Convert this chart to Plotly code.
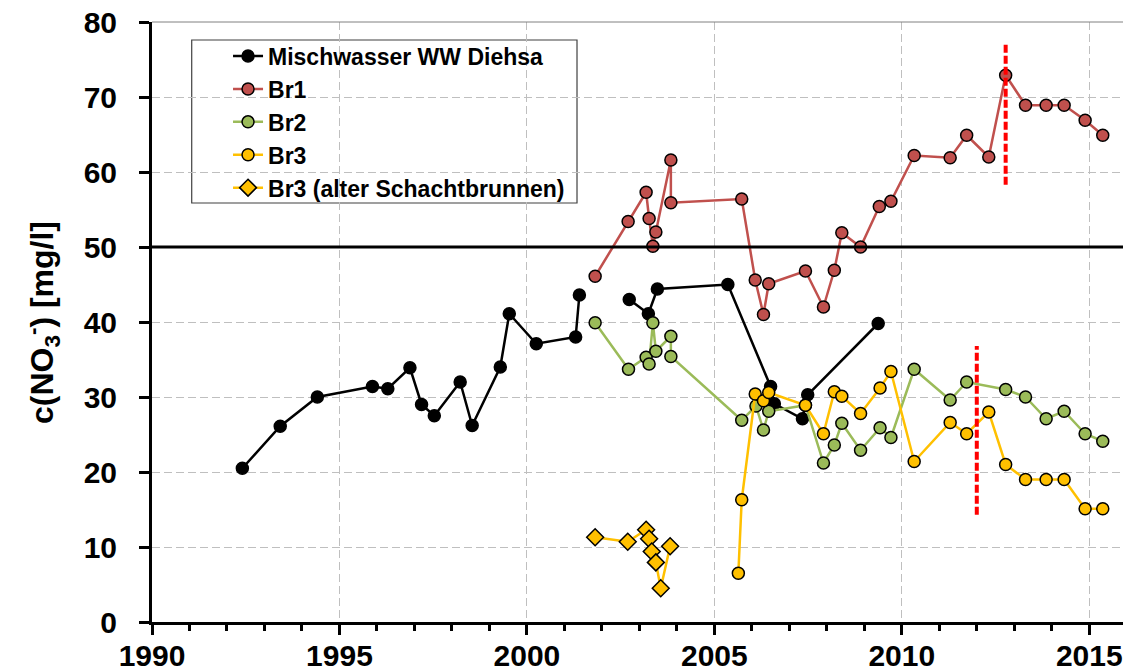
import plotly.graph_objects as go

# ---------------- data ----------------
mw_year = [1992.41, 1993.42, 1994.41, 1995.88, 1996.29, 1996.88, 1997.19, 1997.53, 1998.22, 1998.54,
           1999.29, 1999.53, 2000.25, 2001.30, 2001.40, None,
           2002.73, 2003.24, 2003.48, 2005.36, 2006.50, 2006.60, 2007.35, 2007.49, 2009.37]
mw_val = [20.5, 26.1, 30.0, 31.4, 31.1, 33.9, 29.0, 27.5, 32.0, 26.2,
          34.0, 41.1, 37.1, 38.0, 43.6, None,
          43.0, 41.1, 44.4, 45.0, 31.4, 29.1, 27.1, 30.3, 39.8]

br1_year = [2001.82, 2002.70, 2003.18, 2003.26, 2003.36, 2003.44, 2003.84, 2003.84,
            2005.73, 2006.09, 2006.31, 2006.45, 2007.43, 2007.91, 2008.20, 2008.40, 2008.90,
            2009.40, 2009.71, 2010.33, 2011.29, 2011.73, 2012.32, 2012.77, 2013.30, 2013.85,
            2014.33, 2014.89, 2015.36]
br1_val = [46.1, 53.4, 57.3, 53.8, 50.1, 52.0, 61.6, 55.9,
           56.4, 45.6, 41.0, 45.1, 46.8, 42.0, 46.9, 51.9, 50.0,
           55.4, 56.1, 62.2, 61.9, 64.9, 62.0, 72.9, 68.9, 68.9,
           68.9, 66.9, 64.9]

br2_year = [2001.82, 2002.71, 2003.18, 2003.26, 2003.36, 2003.44, 2003.84, 2003.84,
            2005.73, 2006.11, 2006.31, 2006.45, 2007.43, 2007.91, 2008.20, 2008.40, 2008.90,
            2009.42, 2009.71, 2010.33, 2011.29, 2011.73, 2012.77, 2013.30, 2013.85,
            2014.33, 2014.89, 2015.36]
br2_val = [39.9, 33.7, 35.3, 34.4, 39.9, 36.1, 38.1, 35.4,
           26.9, 28.8, 25.6, 28.1, 28.9, 21.2, 23.6, 26.5, 22.9,
           25.9, 24.6, 33.7, 29.6, 32.0, 31.0, 30.0, 27.1,
           28.1, 25.1, 24.1]

br3_year = [2005.64, 2005.73, 2006.09, 2006.31, 2006.45, 2007.43, 2007.91, 2008.20, 2008.40,
            2008.90, 2009.42, 2009.71, 2010.33, 2011.29, 2011.73, 2012.32, 2012.77, 2013.30,
            2013.85, 2014.33, 2014.89, 2015.36]
br3_val = [6.5, 16.3, 30.4, 29.5, 30.6, 28.9, 25.1, 30.7, 30.1,
           27.8, 31.2, 33.4, 21.4, 26.6, 25.1, 28.0, 21.0, 19.0,
           19.0, 19.0, 15.1, 15.1]

br3old_year = [2001.82, 2002.69, 2003.18, 2003.26, 2003.33, 2003.44, 2003.57, 2003.82]
br3old_val = [11.3, 10.7, 12.3, 11.1, 9.4, 7.95, 4.5, 10.1]

limit_value = 50
event_year = [2012.77, 2012.0]
event_low = [58.3, 14.3]
event_high = [77.2, 36.8]

x_range = [1990, 2015.9]
y_range = [0, 80]

# ---------------- styles ----------------
FONT = "Liberation Sans, Arial, sans-serif"
C_BLACK = "#000000"
C_BR1 = "#C0504D"
C_BR2 = "#9BBB59"
C_BR3 = "#FFC000"

fig = go.Figure()

def add_series(x, y, name, color, symbol="circle", size=12):
    fig.add_trace(go.Scatter(
        x=x, y=y, name=name, mode="lines+markers", connectgaps=False,
        line=dict(color=color, width=2.5),
        marker=dict(symbol=symbol, size=size, color=color,
                    line=dict(color="#000000", width=1.5)),
    ))

add_series(mw_year, mw_val, "Mischwasser WW Diehsa", C_BLACK)
add_series(br1_year, br1_val, "Br1", C_BR1)
add_series(br2_year, br2_val, "Br2", C_BR2)
add_series(br3_year, br3_val, "Br3", C_BR3)
add_series(br3old_year, br3old_val, "Br3 (alter Schachtbrunnen)", C_BR3, symbol="diamond", size=13)

for xe, lo, hi in zip(event_year, event_low, event_high):
    fig.add_trace(go.Scatter(
        x=[xe, xe], y=[lo, hi], mode="lines", showlegend=False, hoverinfo="skip",
        line=dict(color="#FF0000", width=4, dash="8px,3px"),
    ))

fig.add_hline(y=limit_value, line=dict(color="#000000", width=3), layer="above")

# plot-area top border
fig.add_shape(type="line", xref="paper", yref="paper", x0=0, x1=1, y0=1, y1=1,
              line=dict(color="#808080", width=1), layer="above")

# legend box
fig.add_shape(type="rect", xref="paper", yref="paper",
              x0=0.0409, x1=0.4377, y0=0.6983, y1=0.97,
              line=dict(color="#404040", width=1.2), fillcolor="#FFFFFF", layer="between")

fig.update_layout(
    width=1123, height=672,
    margin=dict(l=152, r=0, t=22, b=50, autoexpand=False),
    paper_bgcolor="#FFFFFF", plot_bgcolor="#FFFFFF",
    font=dict(family=FONT, color="#000000"),
    showlegend=True,
    legend=dict(
        x=0.0783, y=0.979, xanchor="left", yanchor="top",
        bgcolor="rgba(0,0,0,0)", borderwidth=0,
        font=dict(family=FONT, size=23, color="#000000", weight="bold"),
        tracegroupgap=0,
    ),
    xaxis=dict(
        range=x_range, tickmode="linear", tick0=1990, dtick=5, automargin=False,
        showgrid=True, gridcolor="#BFBFBF", gridwidth=1, griddash="8px,4px",
        showline=True, linecolor="#000000", linewidth=3,
        ticks="outside", ticklen=10, tickwidth=2.5, tickcolor="#000000",
        tickfont=dict(family=FONT, size=30, color="#000000", weight="bold"),
        ticklabelstandoff=-5,
        minor=dict(dtick=1, tick0=1990, ticks="outside", ticklen=6, tickwidth=2.5,
                   tickcolor="#000000", showgrid=False),
        zeroline=False,
    ),
    yaxis=dict(
        range=y_range, tickmode="linear", tick0=0, dtick=10, automargin=False,
        showgrid=True, gridcolor="#BFBFBF", gridwidth=1, griddash="8px,4px",
        showline=True, linecolor="#000000", linewidth=3,
        ticks="outside", ticklen=10, tickwidth=2.5, tickcolor="#000000",
        tickfont=dict(family=FONT, size=30, color="#000000", weight="bold"),
        ticklabelstandoff=16,
        zeroline=False,
    ),
)

fig.add_annotation(
    text="c(NO<sub>3</sub><sup>-</sup>) [mg/l]", textangle=-90,
    xref="paper", yref="paper", x=-0.1133, y=0.5, xanchor="center", yanchor="middle",
    showarrow=False, font=dict(family=FONT, size=32, color="#000000", weight="bold"),
)

fig.write_html("out.html")
